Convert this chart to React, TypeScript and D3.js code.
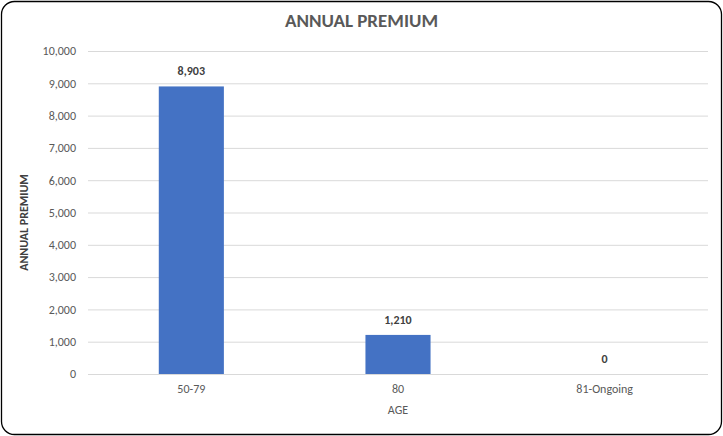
import { useEffect, useRef } from "react";
import * as d3 from "d3";

const WIDTH = 723;
const HEIGHT = 436;
const MARGIN = { top: 51, right: 15, bottom: 62, left: 88 };

const categories = ["50-79", "80", "81-Ongoing"];
const premiums = [8903, 1210, 0];
const yTicks = [0, 1000, 2000, 3000, 4000, 5000, 6000, 7000, 8000, 9000, 10000];

const FONT = "Calibri, Carlito, 'Open Sans', sans-serif";
const TEXT_COLOR = "#595959";
const BAR_COLOR = "#4472C4";

export default function App() {
  const axesRef = useRef<SVGGElement>(null);
  const boundsWidth = WIDTH - MARGIN.left - MARGIN.right;
  const boundsHeight = HEIGHT - MARGIN.top - MARGIN.bottom;

  const xScale = d3.scaleBand().domain(categories).range([0, boundsWidth]).padding(0);
  const yScale = d3.scaleLinear().domain([0, 10000]).range([boundsHeight, 0]);
  const barWidth = xScale.bandwidth() * 0.315;
  const fmt = d3.format(",");

  useEffect(() => {
    const g = d3.select(axesRef.current);
    g.selectAll("*").remove();

    // Y axis: labels only, gridlines across
    const yAxis = d3
      .axisLeft(yScale)
      .tickValues(yTicks)
      .tickFormat((d) => fmt(d as number))
      .tickSize(-boundsWidth)
      .tickPadding(12);
    const ya = g.append("g").call(yAxis);
    ya.select(".domain").remove();
    ya.selectAll(".tick line").attr("stroke", "#d9d9d9").attr("stroke-width", 1);
    ya.selectAll(".tick text")
      .attr("fill", TEXT_COLOR)
      .style("font-family", FONT)
      .style("font-size", "12px");

    // X axis: labels only
    const xAxis = d3.axisBottom(xScale).tickSize(0).tickPadding(10);
    const xa = g.append("g").attr("transform", `translate(0,${boundsHeight})`).call(xAxis);
    xa.select(".domain").remove();
    xa.selectAll(".tick text")
      .attr("fill", TEXT_COLOR)
      .style("font-family", FONT)
      .style("font-size", "12px");
  }, [xScale, yScale, boundsWidth, boundsHeight, fmt]);

  const bars = categories.map((c, i) => {
    const cx = (xScale(c) ?? 0) + xScale.bandwidth() / 2;
    const y = yScale(premiums[i]);
    return (
      <g key={c}>
        <rect
          x={cx - barWidth / 2}
          y={y}
          width={barWidth}
          height={boundsHeight - y}
          fill={BAR_COLOR}
        />
        <text
          x={cx}
          y={y - 11}
          textAnchor="middle"
          fontFamily={FONT}
          fontSize={12}
          fontWeight={600}
          fill="#404040"
        >
          {fmt(premiums[i])}
        </text>
      </g>
    );
  });

  return (
    <div>
      <style>{"body{margin:0}"}</style>
      <svg width={WIDTH} height={HEIGHT} style={{ display: "block" }}>
        <rect x={0} y={0} width={WIDTH} height={HEIGHT} fill="#fff" />
        <rect
          x={1.5}
          y={1.5}
          width={WIDTH - 3}
          height={HEIGHT - 3}
          rx={13}
          ry={13}
          fill="#fff"
          stroke="#000"
          strokeWidth={1.3}
        />
        <text
          x={WIDTH / 2}
          y={27}
          textAnchor="middle"
          fontFamily={FONT}
          fontSize={19}
          fontWeight="bold"
          fill={TEXT_COLOR}
        >
          ANNUAL PREMIUM
        </text>
        <g transform={`translate(${MARGIN.left},${MARGIN.top})`} ref={axesRef} />
        <g transform={`translate(${MARGIN.left},${MARGIN.top})`}>{bars}</g>
        <text
          x={MARGIN.left + boundsWidth / 2}
          y={414}
          textAnchor="middle"
          fontFamily={FONT}
          fontSize={12}
          fill={TEXT_COLOR}
        >
          AGE
        </text>
        <text
          transform={`translate(28,${MARGIN.top + boundsHeight / 2 + 10}) rotate(-90)`}
          textAnchor="middle"
          fontFamily={FONT}
          fontSize={12}
          fontWeight="bold"
          fill="#404040"
        >
          ANNUAL PREMIUM
        </text>
      </svg>
    </div>
  );
}
